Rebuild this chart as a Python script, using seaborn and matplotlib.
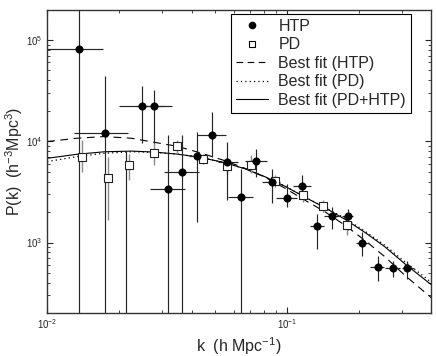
import numpy as np
import pandas as pd
import matplotlib
matplotlib.use("Agg")
import matplotlib.pyplot as plt
from matplotlib.lines import Line2D
import seaborn as sns

# HTP band powers (k in h/Mpc, P in (Mpc/h)^3), error bar extents
htp_k = [0.01363, 0.01745, 0.02133, 0.02487, 0.02799, 0.03185, 0.03651, 0.04227, 0.04847, 0.05605, 0.06432,
         0.07450, 0.08619, 0.09972, 0.1151, 0.1330, 0.1536, 0.1784, 0.2048, 0.2378, 0.2747, 0.3153]
htp_P = [80900, 12190, 120, 22060, 22060, 3348, 4966, 7102, 11650, 6237, 2809,
         6383, 3926, 2771, 3585, 1440, 1809, 1809, 993, 578, 556, 556]
htp_klo = [0.0100, 0.01296, 0.02133, 0.01995, 0.0235, 0.02685, 0.03073, 0.03906, 0.04205, 0.05160, 0.05694,
           0.06683, 0.07867, 0.0900, 0.1059, 0.1247, 0.1417, 0.1690, 0.1939, 0.2217, 0.2560, 0.3006]
htp_khi = [0.01706, 0.02182, 0.02133, 0.0310, 0.03308, 0.0374, 0.0430, 0.0455, 0.05568, 0.06249, 0.07238,
           0.08278, 0.0935, 0.10975, 0.1256, 0.1417, 0.1651, 0.1889, 0.2182, 0.2536, 0.2957, 0.3360]
htp_Plo = [100, 100, 100, 9555, 9555, 100, 100, 1589, 6990, 2605, 100,
           4432, 2433, 2236, 2919, 866, 1366, 1315, 743, 420, 453, 437]
htp_Phi = [300000, 44020, 7960, 35050, 31990, 11470, 11470, 12360, 19510, 9840, 5366,
           8467, 5366, 3813, 4606, 1924, 2236, 2157, 1265, 743, 663, 663]

# PD band powers
pd_k = [0.01399, 0.01792, 0.02200, 0.02791, 0.03490, 0.04480, 0.05604, 0.07102, 0.08889, 0.1166, 0.1406, 0.1778]
pd_P = [7054, 4330, 5879, 7731, 8923, 6709, 5720, 5894, 4018, 2919, 2288, 1491]
pd_Plo = [4932, 1678, 4178, 5786, 7555, 6016, 4745, 4824, 3528, 2506, 1995, 1173]
pd_Phi = [10230, 6990, 7555, 9840, 10400, 7555, 6836, 7270, 4606, 3272, 2605, 1651]

# best-fit model curves
fit_k = [0.0100, 0.0133, 0.0173, 0.0224, 0.0279, 0.0348, 0.0434, 0.0552, 0.0668, 0.0810, 0.0981,
         0.119, 0.144, 0.1745, 0.211, 0.256, 0.310, 0.398]
fit_htp = [9931, 10710, 11130, 10710, 9775, 8923, 7696, 6411, 5404, 4402, 3425,
           2605, 2004, 1474, 1047, 718.5, 471.4, 285.4]
fit_pd = [6295, 7054, 7608, 7870, 7782, 7468, 6942, 6126, 5342, 4452, 3585,
          2803, 2221, 1728, 1291, 934, 641, 406]
fit_both = [6786, 7434, 7870, 7998, 7818, 7468, 6942, 6126, 5342, 4452, 3585,
            2790, 2196, 1689, 1256, 902, 612.6, 383.8]

sns.set_style("ticks")
plt.rcParams["font.family"] = ["Liberation Sans", "DejaVu Sans"]
plt.rcParams["mathtext.fontset"] = "custom"
plt.rcParams["mathtext.rm"] = "Liberation Sans"
plt.rcParams["mathtext.it"] = "Liberation Sans:italic"

fig = plt.figure(figsize=(4.36, 3.56), dpi=100)
ax = fig.add_axes([0.108, 0.12, 0.881, 0.852])

fits = pd.DataFrame({"k": fit_k, "htp": fit_htp, "pd": fit_pd, "both": fit_both})
sns.lineplot(data=fits, x="k", y="htp", ax=ax, color="k", lw=0.8, linestyle=(0, (7, 5)), zorder=2)
sns.lineplot(data=fits, x="k", y="pd", ax=ax, color="k", lw=0.9, linestyle=(0, (1, 2.5)), zorder=2)
sns.lineplot(data=fits, x="k", y="both", ax=ax, color="k", lw=0.8, zorder=2)

htp = pd.DataFrame({"k": htp_k, "P": htp_P, "klo": htp_klo, "khi": htp_khi, "Plo": htp_Plo, "Phi": htp_Phi})
pdd = pd.DataFrame({"k": pd_k, "P": pd_P, "Plo": pd_Plo, "Phi": pd_Phi})

ax.errorbar(pdd["k"], pdd["P"], yerr=[pdd["P"] - pdd["Plo"], pdd["Phi"] - pdd["P"]],
            fmt="none", ecolor="#8c8c8c", elinewidth=1.0, capsize=0, zorder=3)
ax.errorbar(htp["k"], htp["P"], xerr=[htp["k"] - htp["klo"], htp["khi"] - htp["k"]],
            yerr=[htp["P"] - htp["Plo"], htp["Phi"] - htp["P"]],
            fmt="none", ecolor="#262626", elinewidth=0.85, capsize=0, zorder=3)

sns.scatterplot(data=pdd, x="k", y="P", ax=ax, marker="s", s=28, facecolor="white",
                edgecolor="#222222", linewidth=0.8, zorder=4)
sns.scatterplot(data=htp, x="k", y="P", ax=ax, marker="o", s=28, color="k",
                edgecolor="k", linewidth=0.5, zorder=5)

ax.set_xscale("log")
ax.set_yscale("log")
ax.set_xlim(0.01, 0.398)
ax.set_ylim(200, 1.98e5)

ax.tick_params(which="both", direction="in", top=True, right=True, labelsize=7, pad=3)
ax.tick_params(which="major", length=4, width=0.8)
ax.tick_params(which="minor", length=2, width=0.6)
for s in ax.spines.values():
    s.set_linewidth(1.0)
    s.set_color("#333333")

ax.set_xlabel("k  (h Mpc$^{-1}$)", fontsize=11.5, labelpad=3)
ax.set_ylabel("P(k)  (h$^{-3}$Mpc$^{3}$)", fontsize=11.5, labelpad=1)

handles = [
    Line2D([], [], marker="o", color="k", ls="none", markersize=4.5),
    Line2D([], [], marker="s", mfc="white", mec="k", ls="none", markersize=4.5, mew=0.8),
    Line2D([], [], color="k", lw=0.8, ls=(0, (6, 4))),
    Line2D([], [], color="k", lw=0.9, ls=(0, (1, 2.5))),
    Line2D([], [], color="k", lw=0.8),
]
labels = ["HTP", "PD", "Best fit (HTP)", "Best fit (PD)", "Best fit (PD+HTP)"]
leg = ax.legend(handles, labels, loc="upper right", bbox_to_anchor=(0.947, 0.987), frameon=True,
                fancybox=False, edgecolor="k", fontsize=11.5, handlelength=2.0, labelspacing=0.22,
                borderpad=0.3, handletextpad=0.65, borderaxespad=0)
leg.get_frame().set_linewidth(0.8)
leg.get_frame().set_alpha(1)

plt.savefig("out.png", dpi=100)
